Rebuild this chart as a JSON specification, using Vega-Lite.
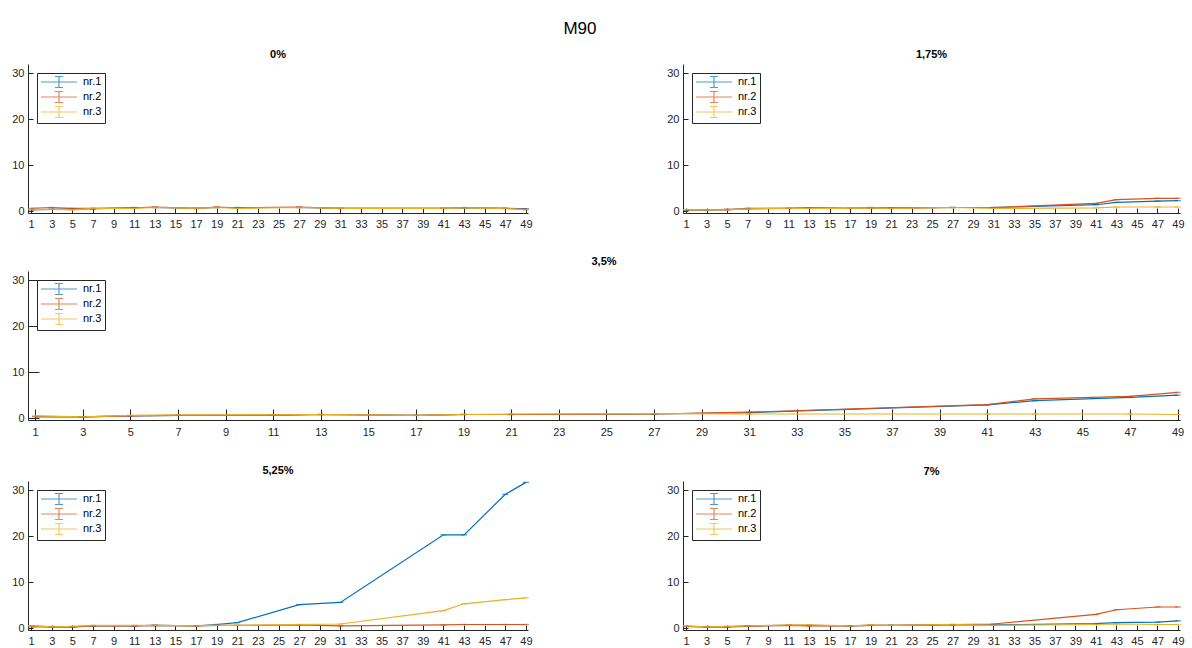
{
  "$schema": "https://vega.github.io/schema/vega-lite/v6.json",
  "padding": {"left": 11, "top": 20, "right": 5, "bottom": 5},
  "background": "white",
  "title": {"text": "M90", "fontSize": 17, "fontWeight": "normal", "font": "Liberation Sans", "color": "#000000", "anchor": "middle", "offset": 11, "dx": -18},
  "config": {
    "view": {"stroke": null},
    "font": "Liberation Sans",
    "axis": {"domainColor": "#262626", "tickColor": "#262626", "labelColor": "#262626", "labelFont": "Liberation Sans", "labelFontSize": 11, "grid": false, "title": null, "domainWidth": 1, "tickWidth": 1},
    "axisX": {"tickSize": -5, "labelPadding": 10, "labelAngle": 0},
    "axisY": {"tickSize": -5, "labelPadding": 9},
    "title": {"fontSize": 11, "fontWeight": "bold", "font": "Liberation Sans", "color": "#000000", "offset": 4},
    "legend": {"orient": "top-left", "offset": 9, "strokeColor": "#262626", "fillColor": "white", "padding": 3, "labelFont": "Liberation Sans", "labelFontSize": 11, "labelColor": "#000000", "symbolType": "M-3.6,0H3.6M0,-1.1V1.1M-0.8,-1.1H0.8M-0.8,1.1H0.8", "symbolSize": 100, "symbolOffset": 13, "symbolStrokeWidth": 1.2, "labelOffset": 18, "rowPadding": -1}
  },
  "datasets": {
    "p0": [
      {"x":1,"y":0.3,"s":"nr.1"},{"x":3,"y":0.4,"s":"nr.1"},{"x":5,"y":0.5,"s":"nr.1"},{"x":7,"y":0.5,"s":"nr.1"},{"x":11,"y":0.8,"s":"nr.1"},{"x":13,"y":0.8,"s":"nr.1"},{"x":17,"y":0.6,"s":"nr.1"},{"x":19,"y":0.8,"s":"nr.1"},{"x":21,"y":0.8,"s":"nr.1"},{"x":27,"y":0.8,"s":"nr.1"},{"x":31,"y":0.6,"s":"nr.1"},{"x":41,"y":0.6,"s":"nr.1"},{"x":43,"y":0.7,"s":"nr.1"},{"x":47,"y":0.6,"s":"nr.1"},{"x":49,"y":0.5,"s":"nr.1"},
      {"x":1,"y":0.6,"s":"nr.2"},{"x":3,"y":0.8,"s":"nr.2"},{"x":5,"y":0.6,"s":"nr.2"},{"x":7,"y":0.6,"s":"nr.2"},{"x":11,"y":0.7,"s":"nr.2"},{"x":13,"y":0.9,"s":"nr.2"},{"x":17,"y":0.6,"s":"nr.2"},{"x":19,"y":0.9,"s":"nr.2"},{"x":21,"y":0.7,"s":"nr.2"},{"x":27,"y":0.9,"s":"nr.2"},{"x":31,"y":0.6,"s":"nr.2"},{"x":41,"y":0.6,"s":"nr.2"},{"x":43,"y":0.8,"s":"nr.2"},{"x":47,"y":0.6,"s":"nr.2"},{"x":49,"y":0.4,"s":"nr.2"},
      {"x":1,"y":0.4,"s":"nr.3"},{"x":3,"y":0.4,"s":"nr.3"},{"x":5,"y":0.3,"s":"nr.3"},{"x":7,"y":0.6,"s":"nr.3"},{"x":11,"y":0.6,"s":"nr.3"},{"x":13,"y":0.8,"s":"nr.3"},{"x":17,"y":0.6,"s":"nr.3"},{"x":19,"y":0.8,"s":"nr.3"},{"x":21,"y":0.6,"s":"nr.3"},{"x":27,"y":0.8,"s":"nr.3"},{"x":31,"y":0.6,"s":"nr.3"},{"x":41,"y":0.6,"s":"nr.3"},{"x":43,"y":0.7,"s":"nr.3"},{"x":47,"y":0.6,"s":"nr.3"},{"x":49,"y":0.3,"s":"nr.3"}
    ],
    "p1": [
      {"x":1,"y":0.2,"s":"nr.1"},{"x":3,"y":0.3,"s":"nr.1"},{"x":5,"y":0.3,"s":"nr.1"},{"x":7,"y":0.6,"s":"nr.1"},{"x":11,"y":0.6,"s":"nr.1"},{"x":13,"y":0.7,"s":"nr.1"},{"x":17,"y":0.6,"s":"nr.1"},{"x":19,"y":0.8,"s":"nr.1"},{"x":21,"y":0.7,"s":"nr.1"},{"x":27,"y":0.8,"s":"nr.1"},{"x":31,"y":0.8,"s":"nr.1"},{"x":41,"y":1.4,"s":"nr.1"},{"x":43,"y":1.9,"s":"nr.1"},{"x":47,"y":2.2,"s":"nr.1"},{"x":49,"y":2.3,"s":"nr.1"},
      {"x":1,"y":0.3,"s":"nr.2"},{"x":3,"y":0.3,"s":"nr.2"},{"x":5,"y":0.4,"s":"nr.2"},{"x":7,"y":0.5,"s":"nr.2"},{"x":11,"y":0.6,"s":"nr.2"},{"x":13,"y":0.7,"s":"nr.2"},{"x":17,"y":0.6,"s":"nr.2"},{"x":19,"y":0.7,"s":"nr.2"},{"x":21,"y":0.6,"s":"nr.2"},{"x":27,"y":0.8,"s":"nr.2"},{"x":31,"y":0.8,"s":"nr.2"},{"x":41,"y":1.7,"s":"nr.2"},{"x":43,"y":2.5,"s":"nr.2"},{"x":47,"y":2.8,"s":"nr.2"},{"x":49,"y":2.8,"s":"nr.2"},
      {"x":1,"y":0.3,"s":"nr.3"},{"x":3,"y":0.3,"s":"nr.3"},{"x":5,"y":0.3,"s":"nr.3"},{"x":7,"y":0.5,"s":"nr.3"},{"x":11,"y":0.6,"s":"nr.3"},{"x":13,"y":0.6,"s":"nr.3"},{"x":17,"y":0.6,"s":"nr.3"},{"x":19,"y":0.7,"s":"nr.3"},{"x":21,"y":0.6,"s":"nr.3"},{"x":27,"y":0.8,"s":"nr.3"},{"x":31,"y":0.6,"s":"nr.3"},{"x":41,"y":0.7,"s":"nr.3"},{"x":43,"y":0.9,"s":"nr.3"},{"x":47,"y":0.9,"s":"nr.3"},{"x":49,"y":0.9,"s":"nr.3"}
    ],
    "p2": [
      {"x":1,"y":0.4,"s":"nr.1"},{"x":3,"y":0.3,"s":"nr.1"},{"x":5,"y":0.5,"s":"nr.1"},{"x":7,"y":0.6,"s":"nr.1"},{"x":11,"y":0.6,"s":"nr.1"},{"x":13,"y":0.8,"s":"nr.1"},{"x":17,"y":0.6,"s":"nr.1"},{"x":19,"y":0.8,"s":"nr.1"},{"x":21,"y":0.8,"s":"nr.1"},{"x":27,"y":0.9,"s":"nr.1"},{"x":31,"y":1.2,"s":"nr.1"},{"x":41,"y":2.9,"s":"nr.1"},{"x":43,"y":3.8,"s":"nr.1"},{"x":47,"y":4.5,"s":"nr.1"},{"x":49,"y":5.0,"s":"nr.1"},
      {"x":1,"y":0.3,"s":"nr.2"},{"x":3,"y":0.3,"s":"nr.2"},{"x":5,"y":0.5,"s":"nr.2"},{"x":7,"y":0.6,"s":"nr.2"},{"x":11,"y":0.7,"s":"nr.2"},{"x":13,"y":0.8,"s":"nr.2"},{"x":17,"y":0.6,"s":"nr.2"},{"x":19,"y":0.8,"s":"nr.2"},{"x":21,"y":0.8,"s":"nr.2"},{"x":27,"y":0.9,"s":"nr.2"},{"x":31,"y":1.3,"s":"nr.2"},{"x":41,"y":2.95,"s":"nr.2"},{"x":43,"y":4.2,"s":"nr.2"},{"x":47,"y":4.75,"s":"nr.2"},{"x":49,"y":5.6,"s":"nr.2"},
      {"x":1,"y":0.5,"s":"nr.3"},{"x":3,"y":0.3,"s":"nr.3"},{"x":5,"y":0.6,"s":"nr.3"},{"x":7,"y":0.7,"s":"nr.3"},{"x":11,"y":0.7,"s":"nr.3"},{"x":13,"y":0.8,"s":"nr.3"},{"x":17,"y":0.6,"s":"nr.3"},{"x":19,"y":0.8,"s":"nr.3"},{"x":21,"y":0.9,"s":"nr.3"},{"x":27,"y":1.0,"s":"nr.3"},{"x":31,"y":0.9,"s":"nr.3"},{"x":41,"y":0.9,"s":"nr.3"},{"x":43,"y":0.9,"s":"nr.3"},{"x":47,"y":0.9,"s":"nr.3"},{"x":49,"y":0.8,"s":"nr.3"}
    ],
    "p3": [
      {"x":1,"y":0.5,"s":"nr.1"},{"x":3,"y":0.3,"s":"nr.1"},{"x":5,"y":0.3,"s":"nr.1"},{"x":7,"y":0.5,"s":"nr.1"},{"x":11,"y":0.5,"s":"nr.1"},{"x":13,"y":0.6,"s":"nr.1"},{"x":17,"y":0.5,"s":"nr.1"},{"x":19,"y":0.8,"s":"nr.1"},{"x":21,"y":1.2,"s":"nr.1"},{"x":27,"y":5.1,"s":"nr.1"},{"x":31,"y":5.6,"s":"nr.1"},{"x":41,"y":20.3,"s":"nr.1"},{"x":43,"y":20.3,"s":"nr.1"},{"x":47,"y":29.1,"s":"nr.1"},{"x":49,"y":31.7,"s":"nr.1"},
      {"x":1,"y":0.3,"s":"nr.2"},{"x":3,"y":0.3,"s":"nr.2"},{"x":5,"y":0.3,"s":"nr.2"},{"x":7,"y":0.5,"s":"nr.2"},{"x":11,"y":0.5,"s":"nr.2"},{"x":13,"y":0.6,"s":"nr.2"},{"x":17,"y":0.5,"s":"nr.2"},{"x":19,"y":0.6,"s":"nr.2"},{"x":21,"y":0.6,"s":"nr.2"},{"x":27,"y":0.7,"s":"nr.2"},{"x":31,"y":0.5,"s":"nr.2"},{"x":41,"y":0.7,"s":"nr.2"},{"x":43,"y":0.8,"s":"nr.2"},{"x":47,"y":0.8,"s":"nr.2"},{"x":49,"y":0.8,"s":"nr.2"},
      {"x":1,"y":0.5,"s":"nr.3"},{"x":3,"y":0.3,"s":"nr.3"},{"x":5,"y":0.4,"s":"nr.3"},{"x":7,"y":0.6,"s":"nr.3"},{"x":11,"y":0.6,"s":"nr.3"},{"x":13,"y":0.6,"s":"nr.3"},{"x":17,"y":0.5,"s":"nr.3"},{"x":19,"y":0.6,"s":"nr.3"},{"x":21,"y":0.6,"s":"nr.3"},{"x":27,"y":0.8,"s":"nr.3"},{"x":31,"y":0.9,"s":"nr.3"},{"x":41,"y":3.8,"s":"nr.3"},{"x":43,"y":5.3,"s":"nr.3"},{"x":47,"y":6.2,"s":"nr.3"},{"x":49,"y":6.6,"s":"nr.3"}
    ],
    "p4": [
      {"x":1,"y":0.4,"s":"nr.1"},{"x":3,"y":0.3,"s":"nr.1"},{"x":5,"y":0.3,"s":"nr.1"},{"x":7,"y":0.5,"s":"nr.1"},{"x":11,"y":0.6,"s":"nr.1"},{"x":13,"y":0.6,"s":"nr.1"},{"x":17,"y":0.5,"s":"nr.1"},{"x":19,"y":0.6,"s":"nr.1"},{"x":21,"y":0.6,"s":"nr.1"},{"x":27,"y":0.7,"s":"nr.1"},{"x":31,"y":0.7,"s":"nr.1"},{"x":41,"y":1.0,"s":"nr.1"},{"x":43,"y":1.2,"s":"nr.1"},{"x":47,"y":1.3,"s":"nr.1"},{"x":49,"y":1.6,"s":"nr.1"},
      {"x":1,"y":0.4,"s":"nr.2"},{"x":3,"y":0.3,"s":"nr.2"},{"x":5,"y":0.3,"s":"nr.2"},{"x":7,"y":0.4,"s":"nr.2"},{"x":11,"y":0.6,"s":"nr.2"},{"x":13,"y":0.5,"s":"nr.2"},{"x":17,"y":0.5,"s":"nr.2"},{"x":19,"y":0.6,"s":"nr.2"},{"x":21,"y":0.6,"s":"nr.2"},{"x":27,"y":0.8,"s":"nr.2"},{"x":31,"y":0.9,"s":"nr.2"},{"x":41,"y":3.0,"s":"nr.2"},{"x":43,"y":4.0,"s":"nr.2"},{"x":47,"y":4.6,"s":"nr.2"},{"x":49,"y":4.6,"s":"nr.2"},
      {"x":1,"y":0.5,"s":"nr.3"},{"x":3,"y":0.3,"s":"nr.3"},{"x":5,"y":0.4,"s":"nr.3"},{"x":7,"y":0.5,"s":"nr.3"},{"x":11,"y":0.7,"s":"nr.3"},{"x":13,"y":0.7,"s":"nr.3"},{"x":17,"y":0.5,"s":"nr.3"},{"x":19,"y":0.7,"s":"nr.3"},{"x":21,"y":0.6,"s":"nr.3"},{"x":27,"y":0.8,"s":"nr.3"},{"x":31,"y":0.6,"s":"nr.3"},{"x":41,"y":0.8,"s":"nr.3"},{"x":43,"y":0.9,"s":"nr.3"},{"x":47,"y":0.8,"s":"nr.3"},{"x":49,"y":0.8,"s":"nr.3"}
    ]
  },
  "vconcat": [
    {
      "hconcat": [
        {
          "title": "0%", "width": 500, "height": 149, "data": {"name": "p0"},
          "encoding": {
            "x": {"field": "x", "type": "quantitative", "scale": {"domain": [0.7, 49.2], "nice": false, "zero": false}, "axis": {"values": [1,3,5,7,9,11,13,15,17,19,21,23,25,27,29,31,33,35,37,39,41,43,45,47,49]}},
            "y": {"field": "y", "type": "quantitative", "scale": {"domain": [-0.4, 32], "nice": false, "zero": false}, "axis": {"values": [0,10,20,30]}},
            "color": {"field": "s", "type": "nominal", "scale": {"domain": ["nr.1","nr.2","nr.3"], "range": ["#0072BD","#D95319","#EDB120"]}, "legend": {"title": null}}
          },
          "layer": [
            {"mark": {"type": "line", "strokeWidth": 1.2}},
            {"mark": {"type": "tick", "orient": "horizontal", "size": 6, "thickness": 1.3}}
          ]
        },
        {
          "title": "1,75%", "width": 497, "height": 149, "data": {"name": "p1"},
          "encoding": {
            "x": {"field": "x", "type": "quantitative", "scale": {"domain": [0.7, 49.2], "nice": false, "zero": false}, "axis": {"values": [1,3,5,7,9,11,13,15,17,19,21,23,25,27,29,31,33,35,37,39,41,43,45,47,49]}},
            "y": {"field": "y", "type": "quantitative", "scale": {"domain": [-0.4, 32], "nice": false, "zero": false}, "axis": {"values": [0,10,20,30]}},
            "color": {"field": "s", "type": "nominal", "scale": {"domain": ["nr.1","nr.2","nr.3"], "range": ["#0072BD","#D95319","#EDB120"]}, "legend": {"title": null}}
          },
          "layer": [
            {"mark": {"type": "line", "strokeWidth": 1.2}},
            {"mark": {"type": "tick", "orient": "horizontal", "size": 6, "thickness": 1.3}}
          ]
        }
      ],
      "spacing": 155, "bounds": "flush",
      "resolve": {"scale": {"color": "independent"}, "legend": {"color": "independent"}}
    },
    {
      "title": "3,5%", "width": 1152, "height": 149, "data": {"name": "p2"},
      "encoding": {
        "x": {"field": "x", "type": "quantitative", "scale": {"domain": [0.7, 49.1], "nice": false, "zero": false}, "axis": {"values": [1,3,5,7,9,11,13,15,17,19,21,23,25,27,29,31,33,35,37,39,41,43,45,47,49], "tickSize": -11, "labelPadding": 17}},
        "y": {"field": "y", "type": "quantitative", "scale": {"domain": [-0.4, 32], "nice": false, "zero": false}, "axis": {"values": [0,10,20,30], "tickSize": -11, "labelPadding": 15}},
        "color": {"field": "s", "type": "nominal", "scale": {"domain": ["nr.1","nr.2","nr.3"], "range": ["#0072BD","#D95319","#EDB120"]}, "legend": {"title": null}}
      },
      "layer": [
        {"mark": {"type": "line", "strokeWidth": 1.2}},
        {"mark": {"type": "tick", "orient": "horizontal", "size": 6, "thickness": 1.3}}
      ]
    },
    {
      "hconcat": [
        {
          "title": "5,25%", "width": 500, "height": 149, "data": {"name": "p3"},
          "encoding": {
            "x": {"field": "x", "type": "quantitative", "scale": {"domain": [0.7, 49.2], "nice": false, "zero": false}, "axis": {"values": [1,3,5,7,9,11,13,15,17,19,21,23,25,27,29,31,33,35,37,39,41,43,45,47,49]}},
            "y": {"field": "y", "type": "quantitative", "scale": {"domain": [-0.4, 32], "nice": false, "zero": false}, "axis": {"values": [0,10,20,30]}},
            "color": {"field": "s", "type": "nominal", "scale": {"domain": ["nr.1","nr.2","nr.3"], "range": ["#0072BD","#D95319","#EDB120"]}, "legend": {"title": null}}
          },
          "layer": [
            {"mark": {"type": "line", "strokeWidth": 1.2}},
            {"mark": {"type": "tick", "orient": "horizontal", "size": 6, "thickness": 1.3}}
          ]
        },
        {
          "title": "7%", "width": 497, "height": 149, "data": {"name": "p4"},
          "encoding": {
            "x": {"field": "x", "type": "quantitative", "scale": {"domain": [0.7, 49.2], "nice": false, "zero": false}, "axis": {"values": [1,3,5,7,9,11,13,15,17,19,21,23,25,27,29,31,33,35,37,39,41,43,45,47,49]}},
            "y": {"field": "y", "type": "quantitative", "scale": {"domain": [-0.4, 32], "nice": false, "zero": false}, "axis": {"values": [0,10,20,30]}},
            "color": {"field": "s", "type": "nominal", "scale": {"domain": ["nr.1","nr.2","nr.3"], "range": ["#0072BD","#D95319","#EDB120"]}, "legend": {"title": null}}
          },
          "layer": [
            {"mark": {"type": "line", "strokeWidth": 1.2}},
            {"mark": {"type": "tick", "orient": "horizontal", "size": 6, "thickness": 1.3}}
          ]
        }
      ],
      "spacing": 155, "bounds": "flush",
      "resolve": {"scale": {"color": "independent"}, "legend": {"color": "independent"}}
    }
  ],
  "spacing": 27,
  "resolve": {"scale": {"color": "independent"}, "legend": {"color": "independent"}}
}
